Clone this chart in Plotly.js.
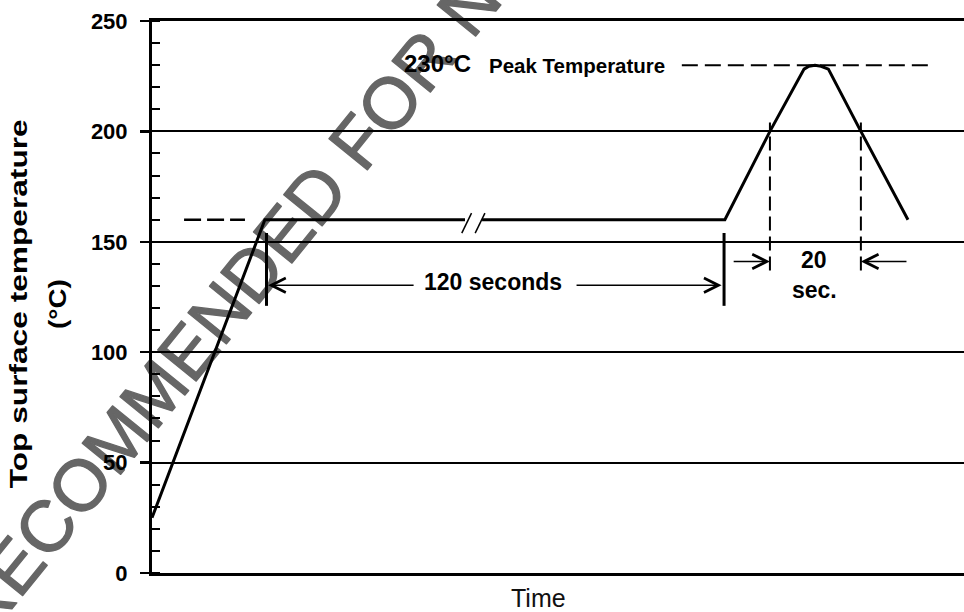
<!DOCTYPE html>
<html><head><meta charset="utf-8">
<script src="https://cdn.plot.ly/plotly-3.0.1.min.js"></script>
<style>html,body{margin:0;padding:0;background:#fff;} #chart{width:964px;height:612px;}</style>
</head><body><div id="chart"></div>
<script>
// ---- data (time in arbitrary units, temperature in °C) ----
const profileTime = [0, 27.8, 77.1, null, 81.3, 141.1, 152.2, 160.6, 161.8, 163.3, 164.8, 166.6, 174.6, 186.2];
const profileTemp = [25, 160, 160, null, 160, 160, 200, 228.2, 229.5, 230, 229.5, 228.2, 200, 160];

const breakMark1Time = [76.3, 78.7];
const breakMark2Time = [79.6, 82.0];
const breakMarkTemp = [153.9, 163.0];

const soakRefTime = [7.9, 22.9];
const soakRefTemp = [160, 160];

const peakRefTime = [130.5, 192.4];
const peakRefTemp = [230, 230];

const soakStartTime = 28.2;
const soakEndTime = 140.9;
const soakMarkerTemp = [121, 154];

const above200Start = 152.2;
const above200End = 174.6;
const above200MarkerTemp = [137, 204];

const soakArrowTemp = 130.3;
const soakArrowLeft = {head: 28.6, tail: 64.8};
const soakArrowRight = {head: 140.3, tail: 104.2};

const peakArrowTemp = 141.1;
const peakArrowLeft = {head: 152.2, tail: 142.9};
const peakArrowRight = {head: 174.6, tail: 186.2};

const yTickVals = [0, 50, 100, 150, 200, 250];
const yTickText = ['0', '50', '100', '150', '200', '250'];

const labels = {
  soak: {text: '120 seconds', t: 84.1, T: 132.0},
  twenty: {text: '20', t: 163.1, T: 141.6},
  sec: {text: 'sec.', t: 163.1, T: 128.0},
  peakValue: {text: '230°C', t: 70.3, T: 230.8},
  peakName: {text: 'Peak Temperature', t: 104.6, T: 229.7}
};
const watermarkText = 'NOT RECOMMENDED FOR NEW DESIGN';
const yTitleLine1 = 'Top surface temperature';
const yTitleLine2 = '(°C)';
const xTitle = 'Time';

// ---- traces ----
const FONT = "Arial, 'Liberation Sans', sans-serif";
const blk = '#000';
function seg(x, y, w, dash) {
  return {x: x, y: y, type: 'scatter', mode: 'lines', hoverinfo: 'skip',
          line: {color: blk, width: w, dash: dash || 'solid'}, showlegend: false, connectgaps: false};
}
const traces = [
  seg(profileTime, profileTemp, 3),
  seg(breakMark1Time, breakMarkTemp, 1.5),
  seg(breakMark2Time, breakMarkTemp, 1.5),
  seg(soakRefTime, soakRefTemp, 2.5, '17px,6px'),
  seg(peakRefTime, peakRefTemp, 2, '16px,7px'),
  seg([soakStartTime, soakStartTime], soakMarkerTemp, 3),
  seg([soakEndTime, soakEndTime], soakMarkerTemp, 3),
  seg([above200Start, above200Start], above200MarkerTemp, 2, '14px,6px'),
  seg([above200End, above200End], above200MarkerTemp, 2, '14px,6px')
];

function arrow(a, T) {
  return {x: a.head, y: T, ax: a.tail, ay: T, xref: 'x', yref: 'y', axref: 'x', ayref: 'y',
          text: '', showarrow: true, arrowhead: 5, arrowsize: 1.9, arrowwidth: 1.5, arrowcolor: blk, standoff: 0, startstandoff: 0};
}
function label(l, size) {
  return {x: l.t, y: l.T, xref: 'x', yref: 'y', text: '<b>' + l.text + '</b>', showarrow: false,
          font: {family: FONT, size: size, color: blk}, xanchor: 'center', yanchor: 'middle'};
}

const annotations = [
  {text: watermarkText, xref: 'paper', yref: 'paper', x: 0.185, y: 0.655, showarrow: false, textangle: -51,
   font: {family: FONT, size: 72, color: '#666666'}, xanchor: 'center', yanchor: 'middle'},
  {text: '<b>' + yTitleLine1 + '</b>', xref: 'paper', yref: 'paper', x: -0.1638, y: 0.488, showarrow: false, textangle: -90,
   font: {family: FONT, size: 24, color: blk}, xanchor: 'center', yanchor: 'middle'},
  {text: '<b>' + yTitleLine2 + '</b>', xref: 'paper', yref: 'paper', x: -0.1158, y: 0.488, showarrow: false, textangle: -90,
   font: {family: FONT, size: 24, color: blk}, xanchor: 'center', yanchor: 'middle'},
  {text: xTitle, xref: 'paper', yref: 'paper', x: 0.4754, y: -0.046, showarrow: false,
   font: {family: FONT, size: 25, color: '#111'}, xanchor: 'center', yanchor: 'middle'},
  arrow(soakArrowLeft, soakArrowTemp),
  arrow(soakArrowRight, soakArrowTemp),
  arrow(peakArrowLeft, peakArrowTemp),
  arrow(peakArrowRight, peakArrowTemp),
  label(labels.soak, 23),
  label(labels.twenty, 23),
  label(labels.sec, 23),
  label(labels.peakValue, 24),
  label(labels.peakName, 20.5)
];

const layout = {
  width: 964, height: 612,
  margin: {l: 152, r: 0, t: 21, b: 39, pad: 0},
  paper_bgcolor: '#fff', plot_bgcolor: 'rgba(0,0,0,0)',
  showlegend: false,
  font: {family: FONT, color: blk},
  xaxis: {range: [0, 200], showgrid: false, zeroline: false, showticklabels: false, ticks: '',
          showline: true, linecolor: blk, linewidth: 3, mirror: true, fixedrange: true},
  yaxis: {range: [0, 250], tickvals: yTickVals, ticktext: yTickText, ticks: 'outside', ticklen: 9, tickwidth: 2.5, tickcolor: blk,
          ticklabelstandoff: 8,
          tickfont: {family: FONT, size: 22, color: blk, weight: 'bold'},
          showgrid: true, gridcolor: blk, gridwidth: 2, zeroline: false,
          showline: true, linecolor: blk, linewidth: 3, fixedrange: true,
          minor: {dtick: 10, ticks: 'inside', ticklen: 8, tickwidth: 2, tickcolor: blk, showgrid: false}},
  annotations: annotations
};

function stretch(idx, sx) {
  const t = document.querySelector('.annotation[data-index="' + idx + '"] text.annotation-text');
  if (!t) return;
  const bb = t.getBBox();
  const cx = bb.x + bb.width / 2, cy = bb.y + bb.height / 2;
  const prev = t.getAttribute('transform') || '';
  t.setAttribute('transform', prev + ' translate(' + cx + ',' + cy + ') scale(' + sx + ',1) translate(' + (-cx) + ',' + (-cy) + ')');
}

Plotly.newPlot('chart', traces, layout, {staticPlot: true, displayModeBar: false}).then(function () {
  stretch(1, 1.32);
  stretch(2, 1.16);
  // watermark: slightly heavier strokes, placed underneath the drawing
  const wm = document.querySelector('.annotation[data-index="0"]');
  if (wm) {
    const wt = wm.querySelector('text.annotation-text');
    if (wt) {
      wt.style.stroke = '#666666';
      wt.style.strokeWidth = '1.3px';
      wt.style.strokeLinejoin = 'round';
    }
    const svgs = document.querySelectorAll('.main-svg');
    if (svgs.length) {
      const svg0 = svgs[0];
      const cart = svg0.querySelector('.cartesianlayer');
      if (cart) svg0.insertBefore(wm, cart);
    }
  }
});
</script>
</body></html>
